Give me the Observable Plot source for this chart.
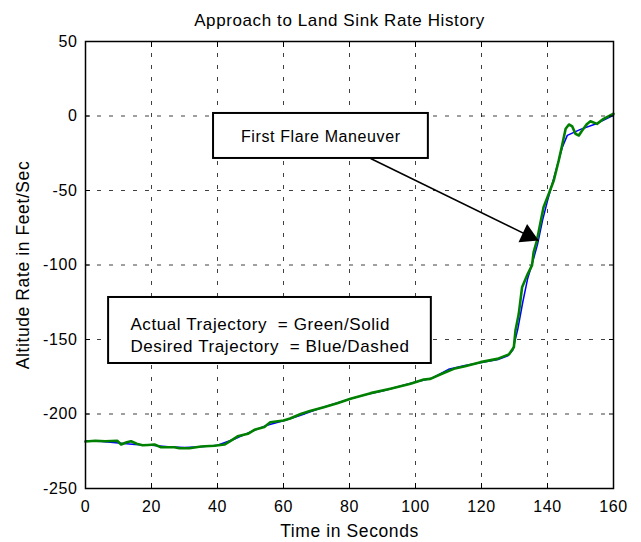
<!DOCTYPE html>
<html>
<head>
<meta charset="utf-8">
<script src="https://cdn.jsdelivr.net/npm/d3@7"></script>
<script src="https://cdn.jsdelivr.net/npm/@observablehq/plot@0.6"></script>
<style>
  body { margin: 0; background: #fff; }
  #chart svg { font-family: "Liberation Sans", Arial, sans-serif; }
  #chart svg text { letter-spacing: 0.6px; }
</style>
</head>
<body>
<div id="chart"></div>
<script>
// Axis ticks
const xTicks = [0, 20, 40, 60, 80, 100, 120, 140, 160];
const yTicks = [-250, -200, -150, -100, -50, 0, 50];

// Actual trajectory (green, solid)
const actualTime = [0, 3, 6, 9.6, 10.8, 12.5, 13.8, 15.5, 17.3, 19, 20.9, 22.9, 26.9, 28.5, 31.5, 35, 39.1, 42.1, 44.1, 46.1,
  49.2, 51.2, 54.2, 56, 60, 62, 65.2, 68, 72.2, 76.3, 80.3, 86.4, 92.4, 98.5, 102.5, 104.5, 108, 111.6, 115, 119.7,
  124.8, 128.3, 129.8, 130.3, 131.3, 132.3, 133.8, 135.3, 135.8, 136.8, 137.8, 138.8, 140.4, 141.9, 143.4, 144.4,
  145.5, 146.5, 147.5, 148.5, 149.5, 150.5, 152, 153, 155, 157, 160];
const actualRate = [-218.5, -218, -218.3, -218, -220.5, -219, -218.3, -220, -221, -220.8, -220.5, -222.3, -222.3, -223, -223, -221.8, -221.3, -220.5, -217.8, -215,
  -213.3, -210.6, -208.8, -205.5, -204.4, -203, -200, -198, -195.4, -192.8, -189.8, -186, -183, -179.7, -176.8, -176.4, -173, -169.7, -168, -165.2,
  -163, -160, -155.2, -144, -132.8, -114.9, -107, -100.3, -91.4, -83.6, -72.3, -61.2, -52.2, -43.3, -29.9, -20,
  -8.6, -5.7, -7, -12, -13.1, -9.7, -5.3, -3.5, -5.3, -1.9, 1.5];

// Desired trajectory (blue, dashed)
const desiredTime = [0, 5, 10, 15, 20, 25, 30, 35, 40, 45, 50, 55, 60, 65, 70, 75, 80, 85, 90, 95, 100, 105, 110, 115, 120,
  125, 128, 129.5, 131, 132.5, 134, 135.5, 137, 138.5, 140, 141.5, 143, 144.5, 146, 150, 155, 160];
const desiredRate = [-218, -218.5, -219.5, -220.5, -221, -222, -222.5, -222, -221, -217, -212, -207.5, -204.5, -201, -197, -193.5, -190, -187, -184.5, -181.5, -178.5, -176, -170, -167.5, -165.5,
  -163.5, -161, -157, -143, -125, -109, -98, -86, -70, -57, -45, -33, -21, -13, -9, -5, 0.5];

// Annotations
const flareText = ["First Flare Maneuver"];
const flareBox = [{x1: 38.8, x2: 103.9, y1: -28.5, y2: 1.7}];
const flareTextPos = [71.3, -13.8];
const arrowStart = [86.4, -28.5];
const arrowTip = [137.3, -83.6];
const legendLines = ["Actual Trajectory\u00a0 = Green/Solid", "Desired Trajectory\u00a0 = Blue/Dashed"];
const legendBox = [{x1: 7.0, x2: 104.8, y1: -166.1, y2: -121.8}];
const legendTextX = [13.6, 13.6];
const legendTextY = [-140, -154.7];

const title = "Approach to Land Sink Rate History";
const xLabel = "Time in Seconds";
const yLabel = "Altitude Rate in Feet/Sec";

const actual = actualTime.map((t, i) => ({t, v: actualRate[i]}));
const desired = desiredTime.map((t, i) => ({t, v: desiredRate[i]}));
const legendData = legendLines.map((s, i) => ({s, x: legendTextX[i], y: legendTextY[i]}));

const gridStyle = {stroke: "#000", strokeWidth: 1, strokeDasharray: "4,8", strokeOpacity: 0.75};

const plot = Plot.plot({
  width: 641,
  height: 542,
  marginLeft: 85,
  marginRight: 28,
  marginTop: 41,
  marginBottom: 54,
  style: {fontFamily: "'Liberation Sans', Arial, sans-serif", fontSize: "16px", background: "#fff", color: "#000"},
  x: {domain: [0, 160]},
  y: {domain: [-250, 50]},
  marks: [
    Plot.ruleX(xTicks.filter(d => d > 0 && d < 160), gridStyle),
    Plot.ruleY(yTicks.filter(d => d > -250 && d < 50), gridStyle),
    Plot.line(desired, {x: "t", y: "v", stroke: "#0000ff", strokeWidth: 1.5}),
    Plot.line(actual, {x: "t", y: "v", stroke: "#008000", strokeWidth: 2.6, strokeLinejoin: "round"}),
    Plot.rect(flareBox, {x1: "x1", x2: "x2", y1: "y1", y2: "y2", fill: "#fff", stroke: "#000", strokeWidth: 2}),
    Plot.text(flareText, {x: flareTextPos[0], y: flareTextPos[1], fontSize: 16, fill: "#000"}),
    Plot.rect(legendBox, {x1: "x1", x2: "x2", y1: "y1", y2: "y2", fill: "#fff", stroke: "#000", strokeWidth: 2}),
    Plot.text(legendData, {x: "x", y: "y", text: "s", textAnchor: "start", fontSize: 17, fill: "#000"}),
    Plot.link([0], {x1: arrowStart[0], y1: arrowStart[1], x2: arrowTip[0], y2: arrowTip[1], stroke: "#000", strokeWidth: 1.5}),
    Plot.dot([0], {x: arrowTip[0], y: arrowTip[1], symbol: "triangle", r: 7.5, rotate: 115, dx: -10.5, dy: -4.9, fill: "#000", stroke: "none"}),
    Plot.axisX({ticks: xTicks, tickSize: -5, tickPadding: 17, tickFormat: d => String(d), label: null, fontSize: 16}),
    Plot.axisX({anchor: "top", ticks: xTicks, tickSize: -5, tickFormat: () => "", label: null}),
    Plot.axisY({ticks: yTicks, tickSize: -5, tickPadding: 13, tickFormat: d => String(d), label: null, fontSize: 16}),
    Plot.axisY({anchor: "right", ticks: yTicks, tickSize: -5, tickFormat: () => "", label: null}),
    Plot.frame({stroke: "#000", strokeWidth: 1.5}),
    Plot.text([title], {frameAnchor: "top", dy: -28, dx: -10, fontSize: 17, fill: "#000"}),
    Plot.text([xLabel], {frameAnchor: "bottom", dy: 48, fontSize: 17.5, fill: "#000"}),
    Plot.text([yLabel], {frameAnchor: "left", textAnchor: "middle", dx: -62, rotate: -90, fontSize: 17.5, fill: "#000"})
  ]
});

document.getElementById("chart").appendChild(plot);
</script>
</body>
</html>
